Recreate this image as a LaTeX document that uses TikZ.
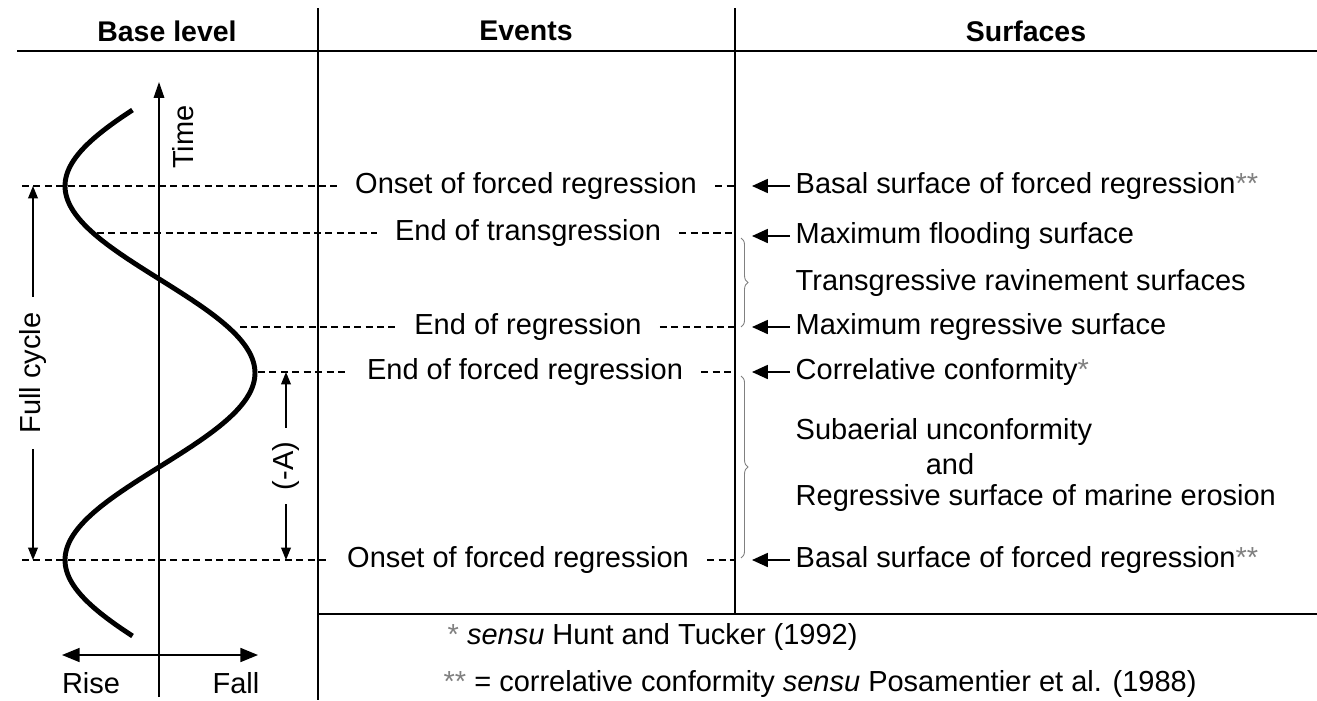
\documentclass[tikz,border=0pt]{standalone}
\usepackage{fontspec}
\setmainfont{Liberation Sans}
\usetikzlibrary{arrows.meta,positioning,decorations.pathreplacing}

\begin{document}
\begin{tikzpicture}[x=0.02cm, y=-0.02cm, line width=0.8pt,
                    font=\fontsize{16.5}{19}\selectfont]
  % styles
  \tikzstyle{txt}=[inner sep=0pt]
  \tikzstyle{head}=[txt,font=\fontsize{16.2}{19}\selectfont\bfseries]
  \tikzstyle{ev}=[inner xsep=10pt,inner ysep=0pt]
  \tikzstyle{sf}=[txt,anchor=west]
  \tikzstyle{dashline}=[dash pattern=on 4pt off 2.5pt,line width=0.75pt]
  \tikzstyle{ptr}=[-{Triangle[length=9pt,width=8pt]},shorten <=3pt]
  \tikzstyle{dimarr}=[{Triangle[length=7pt,width=5.5pt]}-{Triangle[length=7pt,width=5.5pt]}]
  \tikzstyle{brc}=[decorate,decoration={brace,amplitude=4pt},gray,line width=0.5pt]
  \tikzstyle{curve}=[line width=2.8pt]
  \newcommand{\st}[1]{\textcolor{gray}{#1}}

  \useasboundingbox (0,0) rectangle (1317,700);

  % frame
  \coordinate (hl)  at (17,51);
  \coordinate (hr)  at (1317,51);
  \coordinate (v1t) at (318,8);
  \coordinate (v1b) at (318,700);
  \coordinate (v2t) at (735,8);
  \coordinate (v2b) at (735,614);
  \coordinate (fr)  at (1317,614);
  \draw (hl) -- (hr);
  \draw (v1t) -- (v1b);
  \draw (v2t) -- (v2b);
  \draw (v1b |- v2b) -- (fr);

  % headings
  \node[head] (hbase) at (167,31) {Base level};
  \node[head] (hev)   at (526,31) {Events};
  \node[head] (hsf)   at (1026,31) {Surfaces};

  % base level axes and curve
  \coordinate (tb) at (159,697);
  \coordinate (tt) at (159,82);
  \draw[-{Triangle[length=9pt,width=6pt]}] (tb) -- (tt);
  \node[txt,rotate=90] (time) at (183,137) {Time};
  \coordinate (rl) at (62,655);
  \coordinate (rr) at (258,655);
  \draw[{Triangle[length=10pt,width=8pt]}-{Triangle[length=10pt,width=8pt]}] (rl) -- (rr);
  \node[txt] (rise) at (91,683) {Rise};
  \node[txt] (fall) at (236,683) {Fall};
  \draw[curve] plot[domain=110:636,samples=90,smooth]
       ({160-95*cos(0.9626*(\x-186))},\x);

  % events
  \node[ev] (ev1) at (526,186) {Onset of forced regression};
  \node[ev] (ev2) at (528,233) {End of transgression};
  \node[ev] (ev3) at (528,327) {End of regression};
  \node[ev] (ev4) at (525,372) {End of forced regression};
  \node[ev] (ev5) at (518,560) {Onset of forced regression};

  \coordinate (d1) at (22,186);
  \coordinate (d2) at (97,233);
  \coordinate (d3) at (240,327);
  \coordinate (d4) at (258,372);
  \coordinate (d5) at (22,560);
  \draw[dashline] (d1) -- (ev1.west) (ev1.east) -- (v2t |- ev1);
  \draw[dashline] (d2) -- (ev2.west) (ev2.east) -- (v2t |- ev2);
  \draw[dashline] (d3) -- (ev3.west) (ev3.east) -- (v2t |- ev3);
  \draw[dashline] (d4) -- (ev4.west) (ev4.east) -- (v2t |- ev4);
  \draw[dashline] (d5) -- (ev5.west) (ev5.east) -- (v2t |- ev5);

  % cycle dimensions
  \coordinate (fct) at (33,186);
  \coordinate (fcb) at (33,560);
  \draw[dimarr] (fct) -- node[fill=white,rotate=90,inner xsep=9pt,inner ysep=2pt] (fc) {Full cycle} (fcb);
  \coordinate (at) at (286,372);
  \coordinate (ab) at (286,560);
  \draw[dimarr] (at) -- node[fill=white,rotate=90,inner xsep=8pt,inner ysep=2pt] (ma) {(-A)} (ab);

  % surfaces
  \node[sf] (sf1) at (795,186) {Basal surface of forced regression\st{**}};
  \node[sf] (sf2) at (795,236) {Maximum flooding surface};
  \node[sf] (sf3) at (795,283) {Transgressive ravinement surfaces};
  \node[sf] (sf4) at (795,327) {Maximum regressive surface};
  \node[sf] (sf5) at (795,372) {Correlative conformity\st{*}};
  \node[sf] (sf6) at (795,432) {Subaerial unconformity};
  \node[txt] (sf7) at (950,464) {and};
  \node[sf] (sf8) at (795,498) {Regressive surface of marine erosion};
  \node[sf] (sf9) at (795,560) {Basal surface of forced regression\st{**}};

  \coordinate (p1) at (752,186);
  \coordinate (p2) at (752,236);
  \coordinate (p4) at (752,327);
  \coordinate (p5) at (752,372);
  \coordinate (p9) at (752,560);
  \draw[ptr] (sf1.west) -- (p1);
  \draw[ptr] (sf2.west) -- (p2);
  \draw[ptr] (sf4.west) -- (p4);
  \draw[ptr] (sf5.west) -- (p5);
  \draw[ptr] (sf9.west) -- (p9);

  % braces
  \coordinate (b1t) at (741,238);
  \coordinate (b1b) at (741,327);
  \coordinate (b2t) at (741,376);
  \coordinate (b2b) at (741,558);
  \draw[brc] (b1t) -- (b1b);
  \draw[brc] (b2t) -- (b2b);

  % footnotes
  \node[sf] (fn1) at (447,637) {\st{*} \textit{sensu} Hunt and Tucker (1992)};
  \node[sf] (fn2) at (443,684) {\st{**} = correlative conformity \textit{sensu} Posamentier et al. (1988)};
\end{tikzpicture}
\end{document}
